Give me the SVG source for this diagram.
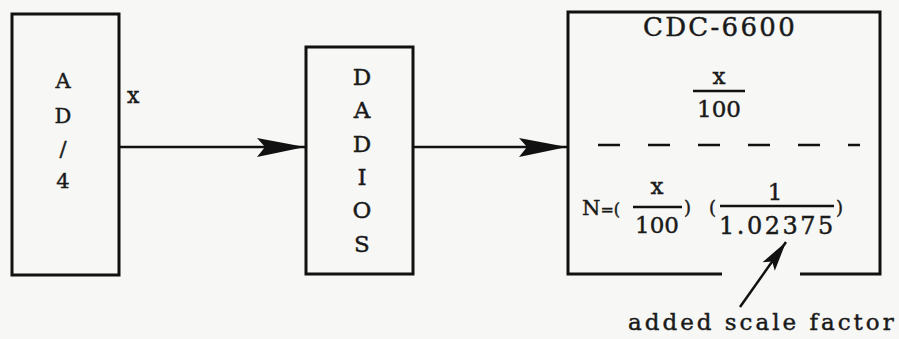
<svg xmlns="http://www.w3.org/2000/svg" width="899" height="339" viewBox="0 0 899 339">
<style>
  .box{fill:none;stroke:#111;stroke-width:3}
  .ln{fill:none;stroke:#111;stroke-width:2.5}
  .t{font-family:"DejaVu Serif","Liberation Serif",serif;fill:#1a1a1a;stroke:#1a1a1a;stroke-width:0.45}
  .c{text-anchor:middle}
</style>
<defs>
  <marker id="ah" markerUnits="userSpaceOnUse" markerWidth="52" markerHeight="22" refX="50" refY="10" orient="auto">
    <path d="M50,10 L2,1 L10,10 L2,20 Z" fill="#111"/>
  </marker>
  <marker id="ah2" markerUnits="userSpaceOnUse" markerWidth="32" markerHeight="18" refX="30" refY="9" orient="auto">
    <path d="M30,9 L0,1.5 L6,9 L0,16.5 Z" fill="#111"/>
  </marker>
</defs>
<rect width="899" height="339" fill="#f7f7f5"/>
<g id="ad4">
  <rect class="box" x="12" y="14" width="107" height="261"/>
  <text class="t c" x="63" y="88" font-size="21">A</text>
  <text class="t c" x="63" y="123" font-size="21">D</text>
  <text class="t c" x="63" y="156" font-size="21">/</text>
  <text class="t c" x="63" y="188" font-size="21">4</text>
</g>
<g id="dadios">
  <rect class="box" x="306" y="47" width="107" height="227"/>
  <text class="t c" x="362" y="85" font-size="23">D</text>
  <text class="t c" x="362" y="118" font-size="23">A</text>
  <text class="t c" x="362" y="152" font-size="23">D</text>
  <text class="t c" x="362" y="185" font-size="23">I</text>
  <text class="t c" x="362" y="218" font-size="23">O</text>
  <text class="t c" x="362" y="252" font-size="23">S</text>
</g>
<g id="cdc6600">
  <path class="box" d="M722,274 L568,274 L568,12 L880,12 L880,274 L800,274"/>
  <text class="t" x="643" y="36" font-size="26" letter-spacing="2.3">CDC-6600</text>
  <text class="t c" x="719" y="84" font-size="23">x</text>
  <line class="ln" x1="693" y1="91" x2="745" y2="91" stroke-width="2"/>
  <text class="t c" x="719" y="117" font-size="23">100</text>
  <line class="ln" x1="598" y1="145" x2="860" y2="145" stroke-dasharray="22 28"/>
  <text class="t" x="582" y="215"><tspan font-size="21">N</tspan><tspan font-size="16">=(</tspan></text>
  <text class="t c" x="657" y="194" font-size="23">x</text>
  <line class="ln" x1="633" y1="207" x2="682" y2="207" stroke-width="2"/>
  <text class="t c" x="657" y="233" font-size="23">100</text>
  <text class="t" x="684" y="214" font-size="18">)</text>
  <text class="t" x="709" y="214" font-size="18">(</text>
  <text class="t c" x="775" y="200" font-size="23">1</text>
  <line class="ln" x1="720" y1="206" x2="834" y2="206" stroke-width="2"/>
  <text class="t" x="719" y="234" font-size="24" letter-spacing="2.5">1.02375</text>
  <text class="t" x="836" y="214" font-size="18">)</text>
</g>
<g id="note">
  <text class="t" x="628" y="330" font-size="23" letter-spacing="3">added scale factor</text>
</g>
<g id="connectors">
  <text class="t" x="127" y="103" font-size="22">x</text>
  <line class="ln" x1="120" y1="147" x2="305" y2="147" marker-end="url(#ah)"/>
  <line class="ln" x1="414" y1="147" x2="567" y2="147" marker-end="url(#ah)"/>
  <line class="ln" x1="740" y1="307" x2="786" y2="242" marker-end="url(#ah2)"/>
</g>
</svg>
